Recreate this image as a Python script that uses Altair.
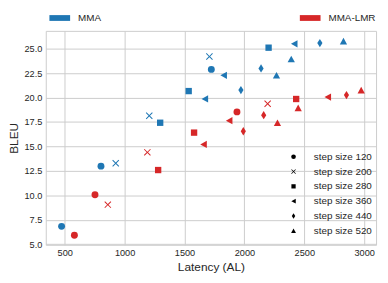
import altair as alt
import pandas as pd

models = ["MMA", "MMA-LMR"]
model_colors = ["#1f77b4", "#d62728"]
step_sizes = [120, 200, 280, 360, 440, 520]
step_labels = ["step size 120", "step size 200", "step size 280",
               "step size 360", "step size 440", "step size 520"]

# three points per step size, in the order of step_sizes
mma_latency = [474, 803, 1724, 926, 1206, 1708, 1297, 1535, 2202,
               1670, 1827, 2416, 1971, 2139, 2630, 2268, 2391, 2827]
mma_bleu = [6.82, 12.98, 22.88, 13.28, 18.13, 24.19, 17.42, 20.66, 25.10,
            19.85, 22.27, 25.50, 20.76, 22.98, 25.57, 22.27, 23.95, 25.77]
lmr_latency = [581, 753, 1938, 860, 1190, 2194, 1280, 1580, 2432,
               1659, 1873, 2696, 1991, 2161, 2852, 2276, 2449, 2975]
lmr_bleu = [5.91, 10.05, 18.53, 9.04, 14.39, 19.37, 12.58, 16.41, 19.85,
            15.20, 17.63, 20.05, 16.55, 18.19, 20.25, 17.42, 18.94, 20.76]

rows = []
for model, lat, bleu in [("MMA", mma_latency, mma_bleu), ("MMA-LMR", lmr_latency, lmr_bleu)]:
    for i, (x, y) in enumerate(zip(lat, bleu)):
        rows.append({"model": model, "step": step_labels[i // 3], "latency": x, "bleu": y})
df = pd.DataFrame(rows)

shape_paths = [
    "circle",
    "M0,-0.2L0.8,-1L1,-0.8L0.2,0L1,0.8L0.8,1L0,0.2L-0.8,1L-1,0.8L-0.2,0L-1,-0.8L-0.8,-1Z",
    "M-0.92,-0.92H0.92V0.92H-0.92Z",
    "M-0.95,0L0.95,-1.05L0.95,1.05Z",
    "M0,-1.2L0.75,0L0,1.2L-0.75,0Z",
    "M0,-0.95L1.05,0.95L-1.05,0.95Z",
]

FONT = "Liberation Sans"
TXT = "#262626"

chart = alt.Chart(df).mark_point(filled=True, opacity=1, size=49).encode(
    x=alt.X("latency:Q", title="Latency (AL)",
            scale=alt.Scale(domain=[342, 3099], nice=False, zero=False),
            axis=alt.Axis(values=[500, 1000, 1500, 2000, 2500, 3000], format="d")),
    y=alt.Y("bleu:Q", title="BLEU",
            scale=alt.Scale(domain=[4.93, 26.82], nice=False, zero=False),
            axis=alt.Axis(values=[5, 7.5, 10, 12.5, 15, 17.5, 20, 22.5, 25], format=".1f")),
    color=alt.Color("model:N", scale=alt.Scale(domain=models, range=model_colors),
                    legend=alt.Legend(title=None, orient="none", legendX=3.7, legendY=-23.8,
                                      direction="horizontal", columns=2, columnPadding=201,
                                      symbolType="M-1,-0.28H1V0.28H-1Z", symbolSize=441,
                                      symbolStrokeWidth=0, labelOffset=8, padding=0)),
    shape=alt.Shape("step:N", scale=alt.Scale(domain=step_labels, range=shape_paths),
                    legend=alt.Legend(title=None, orient="none", legendX=246.3, legendY=122.7,
                                      direction="vertical", symbolSize=22, rowPadding=5,
                                      symbolFillColor="black", symbolStrokeWidth=0,
                                      labelOffset=15.6, padding=0)),
).properties(
    width=335, height=217,
    autosize=alt.AutoSizeParams(type="none"),
    padding={"left": 38.3, "top": 21.3, "right": 4, "bottom": 28},
).configure_view(
    stroke="#cccccc", strokeWidth=1
).configure_axis(
    domain=False, ticks=False, grid=True, gridColor="#cccccc", gridWidth=1,
    labelFont=FONT, labelFontSize=9.3, labelColor=TXT, labelPadding=4,
    titleFont=FONT, titleFontSize=12, titleColor=TXT, titleFontWeight="normal",
).configure_axisY(
    titlePadding=4
).configure_axisX(
    titlePadding=4
).configure_legend(
    labelFont=FONT, labelFontSize=10, labelColor=TXT, labelLimit=200
)

chart.save("out.html", embed_options={"renderer": "svg", "actions": False})
